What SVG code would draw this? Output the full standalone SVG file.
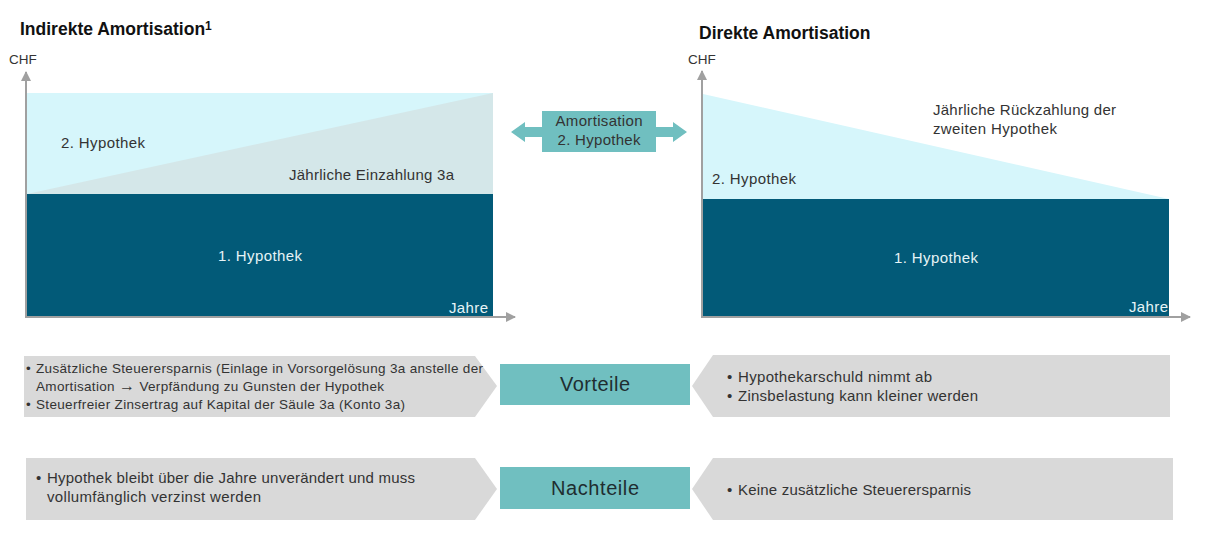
<svg xmlns="http://www.w3.org/2000/svg" width="1205" height="556" viewBox="0 0 1205 556">
<defs>
<style>
text{font-family:"Liberation Sans",Arial,sans-serif;fill:#2d3436}
.title{font-size:17.5px;font-weight:bold;fill:#111}
.ax{font-size:13.5px;fill:#333}
.lbl{font-size:15px;fill:#333}
.lblw{font-size:15px;fill:#e6f4f6}
.dark{fill:#025a78}
.light{fill:#d6f6fb}
.tri{fill:#d4e7e9}
.teal{fill:#70bfc0}
.gray{fill:#d9d9d9}
.axis{stroke:#a0a0a0;stroke-width:2;fill:none;marker-end:url(#ah)}
.small{font-size:13.5px;fill:#333}
.big{font-size:20px;fill:#1f2d30}
</style>
<marker id="ah" viewBox="0 0 10 10" refX="9" refY="5" markerWidth="5" markerHeight="5" orient="auto" markerUnits="strokeWidth">
<path d="M0,0 L10,5 L0,10 z" fill="#a0a0a0"/>
</marker>
</defs>
<rect width="1205" height="556" fill="#ffffff"/>

<g id="left-chart">
<text class="title" x="20" y="35">Indirekte Amortisation<tspan font-size="12" dy="-5">1</tspan></text>
<text class="ax" x="9" y="64">CHF</text>
<rect class="light" x="27" y="93" width="466" height="101"/>
<polygon class="tri" points="27,194 493,93 493,194"/>
<rect class="dark" x="27" y="194" width="466" height="123"/>
<text class="lbl" x="61" y="148" textLength="84">2. Hypothek</text>
<text class="lbl" x="289" y="180" textLength="165">Jährliche Einzahlung 3a</text>
<text class="lblw" x="260" y="261" text-anchor="middle" textLength="84">1. Hypothek</text>
<text class="lblw" x="488" y="313" text-anchor="end" textLength="39">Jahre</text>
</g>

<g id="right-chart">
<text class="title" x="699" y="39">Direkte Amortisation</text>
<text class="ax" x="688" y="64">CHF</text>
<polygon class="light" points="703,94 1169,199 703,199"/>
<rect class="dark" x="703" y="199" width="466" height="118"/>
<text class="lbl" x="933" y="115" textLength="183">Jährliche Rückzahlung der</text>
<text class="lbl" x="933" y="134" textLength="124">zweiten Hypothek</text>
<text class="lbl" x="712" y="184" textLength="84">2. Hypothek</text>
<text class="lblw" x="936" y="263" text-anchor="middle" textLength="84">1. Hypothek</text>
<text class="lblw" x="1168" y="312" text-anchor="end" textLength="39">Jahre</text>
</g>

<g id="connectors">
<line class="axis" x1="26" y1="318" x2="26" y2="72"/>
<line class="axis" x1="26" y1="317" x2="515" y2="317"/>
<line class="axis" x1="702" y1="318" x2="702" y2="71"/>
<line class="axis" x1="702" y1="317" x2="1190" y2="317"/>
<polygon class="teal" points="511,132 525,122 525,127 673,127 673,122 687,132 673,142 673,137 525,137 525,142"/>
</g>

<g id="amortisation-box">
<rect class="teal" x="542" y="111" width="114" height="41"/>
<text class="lbl" x="599" y="126" text-anchor="middle" textLength="87">Amortisation</text>
<text class="lbl" x="599" y="145" text-anchor="middle" textLength="83">2. Hypothek</text>
</g>

<g id="vorteile-indirekt">
<polygon class="gray" points="24,356 475,356 497,386 475,417 24,417"/>
<text class="small" x="26" y="373">•</text>
<text class="small" x="36" y="373" textLength="447">Zusätzliche Steuerersparnis (Einlage in Vorsorgelösung 3a anstelle der</text>
<text class="small" x="36" y="391" textLength="348">Amortisation <tspan font-weight="bold" font-size="16">→</tspan> Verpfändung zu Gunsten der Hypothek</text>
<text class="small" x="26" y="409">•</text>
<text class="small" x="36" y="409" textLength="369">Steuerfreier Zinsertrag auf Kapital der Säule 3a (Konto 3a)</text>
</g>

<g id="vorteile">
<rect class="teal" x="500" y="364" width="190" height="41"/>
<text class="big" x="595" y="391" text-anchor="middle" textLength="70">Vorteile</text>
</g>

<g id="vorteile-direkt">
<polygon class="gray" points="692,386 713,355 1170,355 1170,417 713,417"/>
<text class="lbl" x="727" y="382">•</text>
<text class="lbl" x="738" y="382" textLength="194">Hypothekarschuld nimmt ab</text>
<text class="lbl" x="727" y="401">•</text>
<text class="lbl" x="738" y="401" textLength="240">Zinsbelastung kann kleiner werden</text>
</g>

<g id="nachteile-indirekt">
<polygon class="gray" points="26,458 475,458 497,489 475,520 26,520"/>
<text class="lbl" x="36" y="483">•</text>
<text class="lbl" x="47" y="483" textLength="368">Hypothek bleibt über die Jahre unverändert und muss</text>
<text class="lbl" x="47" y="502" textLength="214">vollumfänglich verzinst werden</text>
</g>

<g id="nachteile">
<rect class="teal" x="500" y="467" width="190" height="42"/>
<text class="big" x="595" y="495" text-anchor="middle" textLength="88">Nachteile</text>
</g>

<g id="nachteile-direkt">
<polygon class="gray" points="692,489 713,458 1173,458 1173,520 713,520"/>
<text class="lbl" x="727" y="495">•</text>
<text class="lbl" x="738" y="495" textLength="233">Keine zusätzliche Steuerersparnis</text>
</g>
</svg>
